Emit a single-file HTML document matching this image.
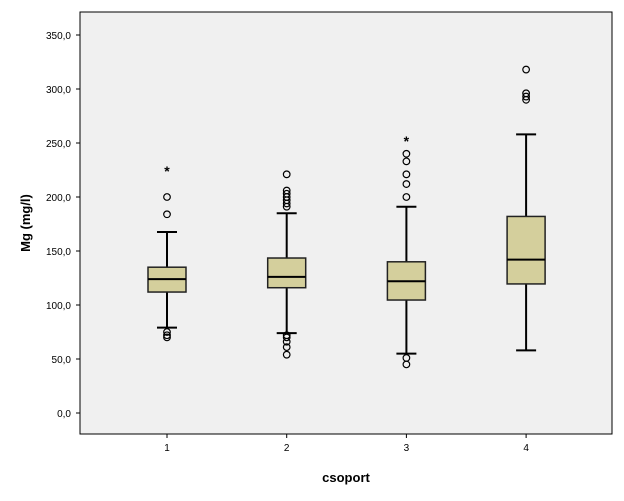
<!DOCTYPE html>
<html><head><meta charset="utf-8"><style>
body{margin:0;background:#fff;font-family:"Liberation Sans",Arial,sans-serif}
svg{display:block}
</style></head><body>
<svg id="chart" width="624" height="501" xmlns="http://www.w3.org/2000/svg">
<rect x="80" y="12" width="532" height="422" fill="#f0f0f0" stroke="#000" stroke-width="1"/>
<g id="yaxis"></g>
<g id="xaxis"></g>
<g id="boxes"></g>
<text x="30" y="223" transform="rotate(-90 30 223)" text-anchor="middle" font-size="13" font-weight="bold">Mg (mg/l)</text>
<text x="346" y="482" text-anchor="middle" font-size="13" font-weight="bold">csoport</text>
</svg>
<script>
const categories = ["1","2","3","4"];
const whiskerLow = [79, 74, 55, 58];
const q1 = [112, 116, 104.6, 119.5];
const median = [124, 126, 122, 142];
const q3 = [135, 143.5, 140, 182];
const whiskerHigh = [167.6, 185, 191, 258];
const outliers = [[200,184,75,72,70],[221,206,203,200,197,194,191,72,70,66,61,54],[240,233,221,212,200,51,45],[318,296,293,290]];
const extremes = [[225],[],[253],[]];
const yTicks = [0,50,100,150,200,250,300,350];
const yTickLabels = ["0,0","50,0","100,0","150,0","200,0","250,0","300,0","350,0"];

const NS="http://www.w3.org/2000/svg";
function y(v){return 413 - v*1.08;}
function x(i){return 167 + i*119.7;}
function mk(tag,attrs,parent){const e=document.createElementNS(NS,tag);for(const k in attrs)e.setAttribute(k,attrs[k]);parent.appendChild(e);return e;}
const ya=document.getElementById('yaxis'),xa=document.getElementById('xaxis'),bx=document.getElementById('boxes');
yTicks.forEach((t,i)=>{
  const l=mk('line',{x1:76,x2:80,y1:y(t),y2:y(t),stroke:'#000'},ya);
  
  
  const tx=mk('text',{x:71,y:y(t)+4,'text-anchor':'end','font-size':'10'},ya);
  tx.textContent=yTickLabels[i];
  
  
});
categories.forEach((c,i)=>{
  const cx=x(i);
  const l=mk('line',{x1:cx,x2:cx,y1:434,y2:438,stroke:'#000'},xa);
  
  
  const tx=mk('text',{x:cx,y:451,'text-anchor':'middle','font-size':'10'},xa);
  tx.textContent=c;
  
  
  const g=mk('g',{},bx);
  
  
  mk('line',{x1:cx,x2:cx,y1:y(whiskerHigh[i]),y2:y(q3[i]),stroke:'#000','stroke-width':2},g);
  mk('line',{x1:cx,x2:cx,y1:y(q1[i]),y2:y(whiskerLow[i]),stroke:'#000','stroke-width':2},g);
  mk('line',{x1:cx-10,x2:cx+10,y1:y(whiskerHigh[i]),y2:y(whiskerHigh[i]),stroke:'#000','stroke-width':2},g);
  mk('line',{x1:cx-10,x2:cx+10,y1:y(whiskerLow[i]),y2:y(whiskerLow[i]),stroke:'#000','stroke-width':2},g);
  const r=mk('rect',{x:cx-19,y:y(q3[i]),width:38,height:y(q1[i])-y(q3[i]),fill:'#d4cf9c',stroke:'#222','stroke-width':1.5},g);
  
  
  mk('line',{x1:cx-19,x2:cx+19,y1:y(median[i]),y2:y(median[i]),stroke:'#000','stroke-width':2},g);
  outliers[i].forEach(v=>{
    const o=mk('circle',{cx:cx,cy:y(v),r:3.3,fill:'none',stroke:'#000','stroke-width':1.2},g);
    
    
  });
  extremes[i].forEach(v=>{
    const s=mk('text',{x:cx,y:y(v)+6,'text-anchor':'middle','font-size':'14','font-weight':'bold'},g);
    s.textContent='*';
    
    
  });
});
</script>
</body></html>
